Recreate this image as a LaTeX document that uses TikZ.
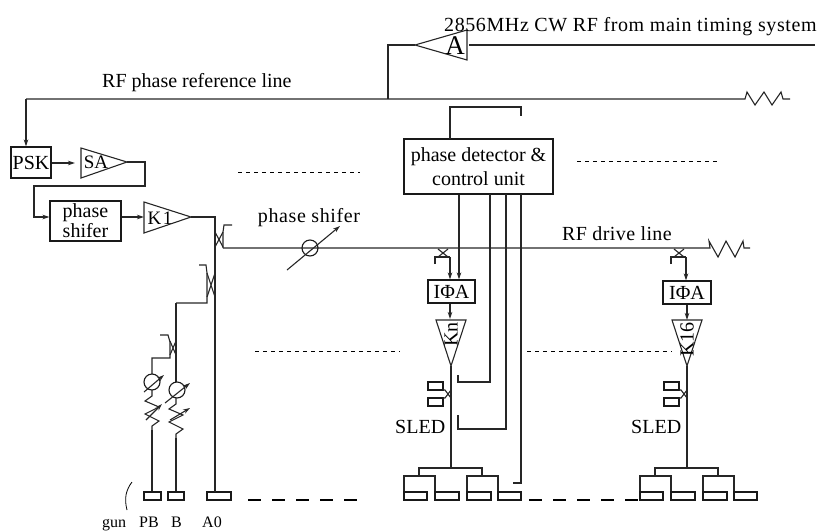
\documentclass[tikz,border=0pt]{standalone}
\usepackage{fontspec}
\setmainfont{Liberation Serif}
\usetikzlibrary{arrows.meta}
\tikzset{
 wire/.style={line width=1.1pt,black!85},
 arr/.style={wire,-{Stealth[length=7pt,width=4.5pt]}},
 bx/.style={draw=black!90,line width=1.1pt,inner sep=0pt,align=center,font=\fontsize{20}{20}\selectfont},
 lbl/.style={inner sep=0pt,font=\fontsize{20}{22}\selectfont},
 tri/.style={wire,line join=miter},
 fine/.style={line width=.9pt,dash pattern=on 4pt off 4pt},
 heavy/.style={line width=2pt,dash pattern=on 13pt off 11pt},
 load/.style={draw=black!90,line width=1.2pt,inner sep=0pt,minimum height=8pt},
}
\newcommand{\xcross}[4]{\draw[wire] (#1,#2)--(#3,#4) (#1,#4)--(#3,#2);}
\newcommand{\vzig}[3]{\draw[wire] (#1,#2)--++(0,6)--++(-7,5)--++(14,6)--++(-14,7)--++(14,7)--++(-7,5)--(#1,#3);}
\begin{document}
\begin{tikzpicture}[x=1pt,y=-1pt]
\useasboundingbox (0,0) rectangle (830,531);
% top amplifier
\coordinate (atip) at (415,45); \coordinate (atop) at (467,30); \coordinate (abot) at (467,60);
\draw[tri] (atip)--(atop)--(abot)--cycle;
\node[inner sep=0pt,font=\fontsize{27}{27}\selectfont] (alab) at (455,46) {A};
\coordinate (srcend) at (815,45);
\coordinate (srcin) at (469,45);
\draw[wire,line width=1.4pt] (srcin)--(srcend);
\coordinate (refj) at (388,99);
\draw[wire] (atip)--(388,45)--(refj);
\node[lbl,anchor=west] (t1) at (444,27) {\addfontfeature{LetterSpace=3}2856MHz CW RF from main timing system};
\node[lbl,anchor=west] (t2) at (102,83) {RF phase reference line};
% reference line
\node[bx,minimum width=40pt,minimum height=31pt] (psk) at (31,162.5) {PSK};
\coordinate (refend) at (790,99);
\draw[wire] (refend)--(783,99)--(781,92)--(772,105)--(764,92)--(755,105)--(747,92)--(745,99)--(26,99);
\draw[arr] (26,99)--(26,0|-psk.north);
% SA
\coordinate (satop) at (81,148); \coordinate (sabot) at (81,178); \coordinate (satip) at (127,162);
\draw[tri] (satop)--(sabot)--(satip)--cycle;
\node[inner sep=0pt,font=\fontsize{19}{19}\selectfont] (salab) at (96,162) {SA};
\draw[arr,shorten >=6pt] (psk.east|-0,163)--(satop|-0,163);
\node[bx,minimum width=71pt,minimum height=40pt] (ps) at (85.5,221) {phase\\shifer};
\draw[arr] (satip)--(145,162)--(145,186)--(34,186)--(34,217)--(ps.west|-0,217);
% K1
\coordinate (ktop) at (144,202); \coordinate (kbot) at (144,233); \coordinate (ktip) at (191,217);
\draw[tri] (ktop)--(kbot)--(ktip)--cycle;
\node[inner sep=0pt,font=\fontsize{19}{19}\selectfont] (klab) at (160,218) {\addfontfeature{LetterSpace=8}K1};
\draw[arr] (ps.east|-0,217)--(ktop|-0,217);
% A0 column
\node[load,minimum width=24pt] (a0) at (219,496) {};
\node[load,minimum width=17pt] (pb) at (152.5,496) {};
\node[load,minimum width=16pt] (b) at (176,496) {};
\draw[wire] (ktip)--(215,217)--(215,492);
\xcross{215}{232}{223}{247}
\draw[wire] (232,225)--(224,225)--(223,232)--(223,248);
\coordinate (dj) at (223,248);
\coordinate (dend) at (750,248);
\draw[wire] (dj)--(710,248)--(709,241)--(718,257)--(726,241)--(735,257)--(743,241)--(744,248)--(dend);
% second coupler
\draw[wire] (199,265)--(206,265)--(207,273)--(207,303)--(176,303);
\xcross{207}{273}{215}{297}
% B line and third coupler
\draw[wire] (176,303)--(176,382);
\draw[wire] (160,335)--(168,335)--(170,342)--(170,358)--(152,358)--(152,374);
\xcross{170}{341}{176}{355}
\node[draw=black!90,line width=1.1pt,circle,minimum size=16pt,inner sep=0pt] (c1) at (152,382) {};
\node[draw=black!90,line width=1.1pt,circle,minimum size=16pt,inner sep=0pt] (c2) at (177,390) {};
\draw[arr] (144,392)--(164,375);
\draw[arr] (165,403)--(190,383);
\vzig{152}{390}{430}
\vzig{176}{398}{438}
\draw[arr] (146,420)--(162,404);
\draw[arr] (170,420)--(190,408);
\draw[wire] (152,430)--(152,0|-pb.north);
\draw[wire] (176,438)--(176,0|-b.north);
\draw[line width=.8pt] (132,482) .. controls (126,490) and (124,498) .. (127,510);
\node[lbl,anchor=base west,font=\fontsize{16}{16}\selectfont] (gl) at (102,527) {gun};
\node[lbl,anchor=base west,font=\fontsize{16}{16}\selectfont] (pbl) at (139,527) {PB};
\node[lbl,anchor=base west,font=\fontsize{16}{16}\selectfont] (bl) at (171,527) {B};
\node[lbl,anchor=base west,font=\fontsize{16}{16}\selectfont] (a0l) at (202,527) {A0};
% main phase shifter
\node[draw=black!90,line width=1.1pt,circle,minimum size=16pt,inner sep=0pt] (c3) at (310,248) {};
\coordinate (psa) at (287,270); \coordinate (psb) at (340,226);
\draw[arr] (psa)--(psb);
\node[lbl] (t3) at (309,218) {\addfontfeature{LetterSpace=3}phase shifer};
\node[lbl] (t4) at (617,234) {\addfontfeature{LetterSpace=2}RF drive line};
% control unit
\node[bx,minimum width=149pt,minimum height=55pt,font=\fontsize{20}{24}\selectfont] (pd) at (478.5,166.5) {phase detector \&\\control unit};
\draw[wire] (450,139)--(450,107)--(521,107)--(521,116);
% klystron stations
\foreach \o/\kk in {0/Kn,236/K16}{
 \begin{scope}[xshift=\o pt]
  \draw[wire] (435,264)--(435,257)--(441,257)--(450,257);
  \draw[wire] (438,249)--(448,257) (448,249)--(438,257);
  \draw[tri] (436,320)--(466,320)--(451,366)--cycle;
  \node[rotate=90,inner sep=0pt,anchor=east,font=\fontsize{20}{20}\selectfont] at (451,322) {\kk};
  \draw[load] (428,382) rectangle (443,390);
  \draw[load] (428,398) rectangle (443,406);
  \draw[wire] (443,390)--(445,390)--(451,398);
  \draw[wire] (443,398)--(445,398)--(451,390);
  \draw[wire] (451,366)--(451,468);
  \node[lbl,anchor=west] at (395,427) {SLED};
  \draw[wire] (419,476)--(419,468)--(482,468)--(482,476);
  \draw[wire] (404,492)--(404,476)--(435,476)--(435,492);
  \draw[wire] (467,492)--(467,476)--(498,476)--(498,492);
  \draw[load] (404,492) rectangle (427,500);
  \draw[load] (435,492) rectangle (459,500);
  \draw[load] (467,492) rectangle (491,500);
  \draw[load] (498,492) rectangle (521,500);
 \end{scope}
}
\node[bx,minimum width=47pt,minimum height=23pt] (ia) at (451.5,291.5) {IΦA};
\node[bx,minimum width=48pt,minimum height=23pt] (ib) at (687,292.5) {IΦA};
\draw[arr] (459,0|-pd.south)--(459,0|-ia.north);
\draw[wire] (490,194)--(490,382)--(458,382)--(458,375);
\draw[wire] (506,194)--(506,429)--(458,429)--(458,415);
\draw[wire] (521,194)--(521,483)--(513,483);
\draw[arr] (450,257)--(450,0|-ia.north);
\draw[arr] (686,257)--(686,0|-ib.north);
\draw[arr] (450,0|-ia.south)--(450,319);
\draw[arr] (687,0|-ib.south)--(687,320);
% dashes
\coordinate (d1a) at (238,172); \coordinate (d1b) at (360,172);
\coordinate (d2a) at (577,161); \coordinate (d2b) at (720,161);
\coordinate (d3a) at (255,351); \coordinate (d3b) at (400,351);
\coordinate (d4a) at (527,351); \coordinate (d4b) at (672,351);
\coordinate (d5a) at (248,500); \coordinate (d5b) at (360,500);
\coordinate (d6a) at (529,500); \coordinate (d6b) at (640,500);
\draw[fine] (d1a)--(d1b);
\draw[fine] (d2a)--(d2b);
\draw[fine] (d3a)--(d3b);
\draw[fine] (d4a)--(d4b);
\draw[heavy] (d5a)--(d5b);
\draw[heavy] (d6a)--(d6b);
\end{tikzpicture}
\end{document}
